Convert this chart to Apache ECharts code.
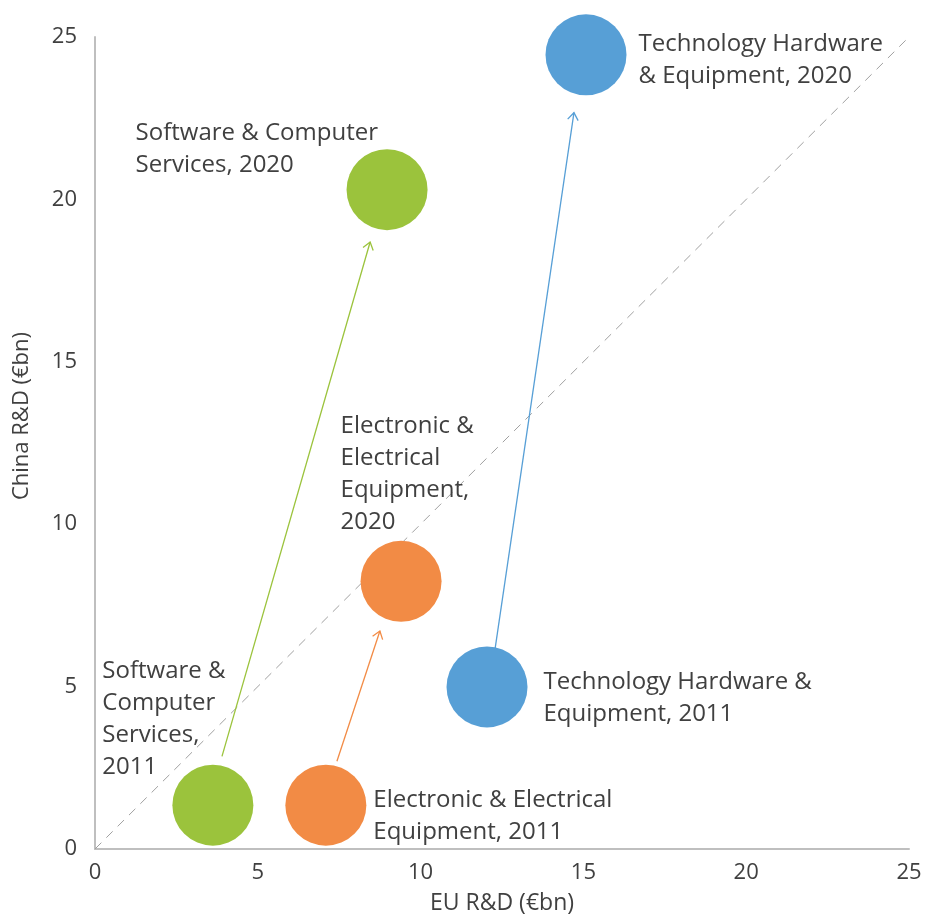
<!DOCTYPE html>
<html>
<head>
<meta charset="utf-8">
<script src="https://cdn.jsdelivr.net/npm/echarts@6/dist/echarts.min.js"></script>
<style>
  html, body { margin: 0; padding: 0; background: #fff; }
  #chart { width: 926px; height: 920px; }
</style>
</head>
<body>
<div id="chart"></div>
<script>
// sectors, EU vs China R&D (€bn), 2011 and 2020
const sectors = ['Software & Computer Services', 'Electronic & Electrical Equipment', 'Technology Hardware & Equipment']
const colors = ['#9bc33c', '#f28b45', '#579fd6']
const eu2011 = [3.62, 7.09, 12.04]
const china2011 = [1.35, 1.35, 4.99]
const eu2020 = [8.97, 9.40, 15.08]
const china2020 = [20.3, 8.24, 24.45]
// arrow start / end points (EU, China)
const arrowFrom = [[3.90, 2.85], [7.43, 2.70], [12.25, 5.91]]
const arrowTo = [[8.45, 18.69], [8.75, 6.71], [14.71, 22.67]]
const xTicks = [0, 5, 10, 15, 20, 25]
const yTicks = [0, 5, 10, 15, 20, 25]

const labels2011 = ['Software &\nComputer\nServices,\n2011', 'Electronic & Electrical\nEquipment, 2011', 'Technology Hardware &\nEquipment, 2011']
const labels2020 = ['Software & Computer\nServices, 2020', 'Electronic &\nElectrical\nEquipment,\n2020', 'Technology Hardware\n& Equipment, 2020']
// label offsets relative to bubble box top-left
const pos2011 = [[-70, -109], [88, 20], [97, 20]]
const pos2020 = [[-211, -32], [-20, -131], [93, 14]]

const FONT = '"Open Sans", "Noto Sans", sans-serif'
const TXT = '#404040'

const chart = echarts.init(document.getElementById('chart'))

const bubbles = (xs, ys, texts, pos) => xs.map((x, i) => ({
  value: [x, ys[i]],
  itemStyle: { color: colors[i], opacity: 1 },
  label: {
    show: true,
    formatter: texts[i],
    position: pos[i],
    align: 'left',
    verticalAlign: 'top',
    color: TXT,
    fontSize: 24,
    lineHeight: 32,
    fontFamily: FONT
  }
}))

const option = {
  animation: false,
  grid: { left: 95, right: 17, top: 37, bottom: 67 },
  xAxis: {
    type: 'value', min: 0, max: 25, interval: 5,
    name: 'EU R&D (€bn)', nameLocation: 'middle', nameGap: 43,
    nameTextStyle: { color: TXT, fontSize: 23, fontFamily: FONT },
    axisLine: { show: true, lineStyle: { color: '#bfbfbf', width: 2 } },
    axisTick: { show: false },
    splitLine: { show: false },
    axisLabel: { color: TXT, fontSize: 22, fontFamily: FONT, margin: 13,
      formatter: v => xTicks.includes(v) ? String(v) : '' }
  },
  yAxis: {
    type: 'value', min: 0, max: 25, interval: 5,
    name: 'China R&D (€bn)', nameLocation: 'middle', nameGap: 62,
    nameTextStyle: { color: TXT, fontSize: 22, fontFamily: FONT, padding: [0, 0, 0, 54] },
    axisLine: { show: true, lineStyle: { color: '#bfbfbf', width: 2 } },
    axisTick: { show: false },
    splitLine: { show: false },
    axisLabel: { color: TXT, fontSize: 22, fontFamily: FONT, margin: 18,
      formatter: v => yTicks.includes(v) ? String(v) : '' }
  },
  series: [
    {
      type: 'line',
      data: [[0, 0], [25, 25]],
      symbol: 'none',
      silent: true,
      lineStyle: { color: '#a0a0a0', width: 1, type: [9, 7] },
      z: 1
    },
    {
      type: 'custom',
      coordinateSystem: 'cartesian2d',
      data: arrowFrom.map((p, i) => [p[0], p[1], arrowTo[i][0], arrowTo[i][1]]),
      renderItem: (params, api) => {
        const p0 = api.coord([api.value(0), api.value(1)])
        const p1 = api.coord([api.value(2), api.value(3)])
        const ang = Math.atan2(p1[1] - p0[1], p1[0] - p0[0])
        const L = 9, a = Math.PI / 5
        const h1 = [p1[0] - L * Math.cos(ang - a), p1[1] - L * Math.sin(ang - a)]
        const h2 = [p1[0] - L * Math.cos(ang + a), p1[1] - L * Math.sin(ang + a)]
        const c = colors[params.dataIndex]
        return {
          type: 'group',
          children: [
            { type: 'line', shape: { x1: p0[0], y1: p0[1], x2: p1[0], y2: p1[1] }, style: { stroke: c, lineWidth: 1.3 } },
            { type: 'polyline', shape: { points: [h1, p1, h2] }, style: { stroke: c, lineWidth: 1.3, fill: null } }
          ]
        }
      },
      z: 2
    },
    {
      type: 'scatter',
      symbolSize: 81,
      data: bubbles(eu2011, china2011, labels2011, pos2011),
      z: 3
    },
    {
      type: 'scatter',
      symbolSize: 81,
      data: bubbles(eu2020, china2020, labels2020, pos2020),
      z: 3
    }
  ]
}

chart.setOption(option)
</script>
</body>
</html>
